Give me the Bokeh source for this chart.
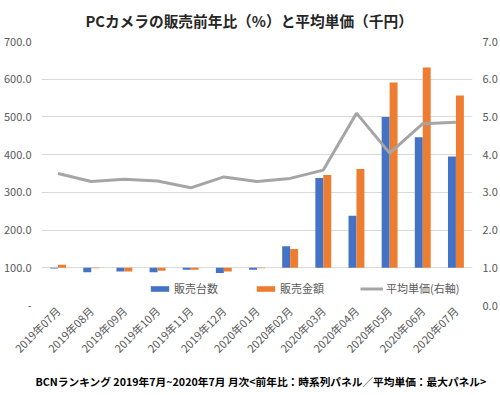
import math
from bokeh.plotting import figure
from bokeh.models import (FactorRange, Range1d, LinearAxis, ColumnDataSource, Legend,
                          LegendItem, Title, CustomJSTickFormatter, FixedTicker,
                          NumeralTickFormatter)
from bokeh.transform import dodge
from bokeh.embed import file_html
from bokeh.resources import INLINE

months = ["2019年07月", "2019年08月", "2019年09月", "2019年10月", "2019年11月",
          "2019年12月", "2020年01月", "2020年02月", "2020年03月", "2020年04月",
          "2020年05月", "2020年06月", "2020年07月"]
units_yoy = [98, 88, 90, 88, 95, 86, 95, 157, 338, 238, 500, 446, 395]
sales_yoy = [108, 99, 90, 92, 95, 90, 99, 150, 346, 362, 591, 631, 557]
avg_price = [3.50, 3.29, 3.35, 3.30, 3.12, 3.41, 3.29, 3.37, 3.59, 5.10, 4.04, 4.82, 4.86]
left_ticks = [0, 100, 200, 300, 400, 500, 600, 700]
right_ticks = [0, 1, 2, 3, 4, 5, 6, 7]
baseline = 100

title_text = "PCカメラの販売前年比（%）と平均単価（千円）"
footer_text = "BCNランキング 2019年7月~2020年7月 月次<前年比：時系列パネル／平均単価：最大パネル>"
series_names = ["販売台数", "販売金額", "平均単価(右軸)"]

FONT = "Noto Sans CJK JP"
BLUE = "#4472C4"
ORANGE = "#ED7D31"
GREY = "#A5A5A5"
TXT = "#595959"

src = ColumnDataSource(dict(m=months, units=units_yoy, sales=sales_yoy,
                            price=avg_price, base=[baseline] * len(months)))

p = figure(x_range=FactorRange(*months), y_range=Range1d(0, 700),
           width=500, height=395, output_backend="svg", toolbar_location=None,
           min_border_left=41, min_border_top=41, min_border_right=28, min_border_bottom=89)
p.extra_y_ranges = {"right": Range1d(0, 7)}

p.title.text = title_text
p.title.align = "left"
p.title.offset = 44
p.title.text_font = FONT
p.title.text_font_size = "14.7px"
p.title.text_font_style = "bold"
p.title.text_color = "#262626"
p.title.vertical_align = "top"
p.title.standoff = 17

b1 = p.vbar(x=dodge("m", -0.12, range=p.x_range), top="units", bottom="base", width=0.24,
            source=src, fill_color=BLUE, line_color=None)
b2 = p.vbar(x=dodge("m", 0.12, range=p.x_range), top="sales", bottom="base", width=0.24,
            source=src, fill_color=ORANGE, line_color=None)
l1 = p.line(x="m", y="price", source=src, y_range_name="right", line_color=GREY, line_width=3)

p.yaxis.ticker = FixedTicker(ticks=left_ticks)
p.yaxis.formatter = CustomJSTickFormatter(code="return tick == 0 ? '-' : tick.toFixed(1);")
ra = LinearAxis(y_range_name="right", ticker=FixedTicker(ticks=right_ticks),
                formatter=NumeralTickFormatter(format="0.0"))
p.add_layout(ra, "right")

for ax in [p.xaxis[0], p.yaxis[0], ra]:
    ax.axis_line_color = None
    ax.major_tick_line_color = None
    ax.minor_tick_line_color = None
    ax.major_tick_out = 0
    ax.major_tick_in = 0
    ax.minor_tick_out = 0
    ax.major_label_text_font = FONT
    ax.major_label_text_font_size = "11px"
    ax.major_label_text_color = TXT
p.yaxis[0].major_label_standoff = 10
ra.major_label_standoff = 10
p.xaxis.major_label_orientation = math.pi / 4
p.xaxis.major_label_standoff = 3

p.xgrid.grid_line_color = None
p.ygrid.grid_line_color = "#D9D9D9"
p.ygrid.ticker = FixedTicker(ticks=left_ticks)
p.outline_line_color = None

legend = Legend(items=[LegendItem(label=series_names[0], renderers=[b1]),
                       LegendItem(label=series_names[1], renderers=[b2]),
                       LegendItem(label=series_names[2], renderers=[l1])],
                orientation="horizontal", location=(107, 9), padding=0, margin=0,
                spacing=36, glyph_width=23, glyph_height=7, label_width=44, label_standoff=3,
                label_text_font=FONT, label_text_font_size="11px", label_text_color=TXT,
                border_line_alpha=0, background_fill_alpha=0)
p.add_layout(legend)

footer = Title(text=footer_text, align="left", text_font=FONT, text_font_size="10.7px",
               text_font_style="bold", text_color="#000000", standoff=14, offset=-6)
p.add_layout(footer, "below")

open("out.html", "w").write(file_html(p, INLINE))
